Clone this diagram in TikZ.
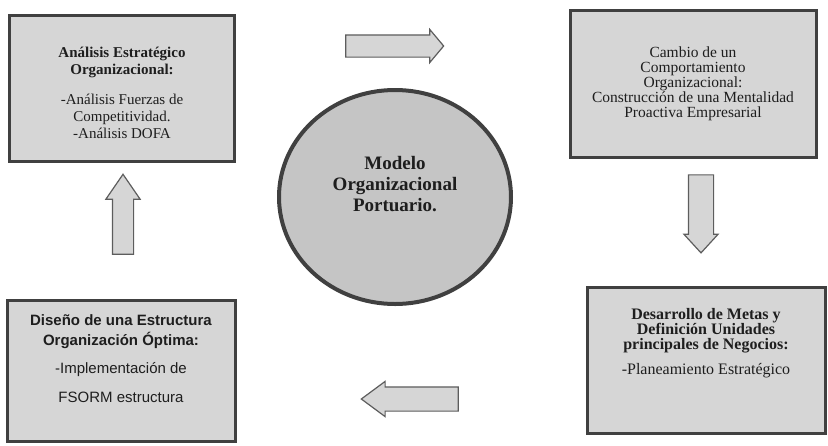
\documentclass[tikz,border=0pt]{standalone}
\usepackage{fontspec}
\setmainfont{Liberation Serif}
\newfontfamily\arialfont{Liberation Sans}
\usetikzlibrary{shapes.arrows,shapes.geometric,positioning}
\definecolor{edge}{HTML}{404040}
\definecolor{shade}{HTML}{D6D6D6}
\definecolor{ink}{HTML}{1E1E1E}
\tikzset{
  box/.style={draw=edge,line width=3pt,fill=shade,inner sep=0pt},
  txt/.style={align=center,text=ink,inner sep=0pt},
  hub/.style={ellipse,draw=edge,line width=4pt,fill=shade!92!black,inner sep=0pt},
  blk/.style={single arrow,draw=edge!85,line width=1.2pt,fill=shade,single arrow head indent=0pt}
}

\begin{document}
\begin{tikzpicture}[x=1pt,y=-1pt]
\useasboundingbox (0,0) rectangle (828,445);
% four boxes and the hub
\node[box,minimum width=225pt,minimum height=146pt] (ana) at (122,88) {};
\node[box,minimum width=246pt,minimum height=147pt] (cam) at (693,83.5) {};
\node[box,minimum width=238pt,minimum height=146pt] (des) at (706,360) {};
\node[box,minimum width=228pt,minimum height=141pt] (dis) at (121,370.5) {};
\node[hub,minimum width=232pt,minimum height=214pt] (mod) at (395,197) {};
% texts
\node[txt,font=\fontsize{15}{17}\selectfont,yshift=-5pt] (anatxt) at (ana)
  {\textbf{Análisis Estratégico}\\\textbf{Organizacional:}\\[13pt]-Análisis Fuerzas de\\Competitividad.\\-Análisis DOFA};
\node[txt,font=\fontsize{15.5}{15}\selectfont] (camtxt) at (cam)
  {Cambio de un\\Comportamiento\\Organizacional:\\Construcción de una Mentalidad\\Proactiva Empresarial};
\node[txt,font=\fontsize{16}{15}\selectfont\bfseries,yshift=17pt] (destxt) at (des)
  {Desarrollo de Metas y\\Definición Unidades\\principales de Negocios:\\[10pt]\mdseries -Planeamiento Estratégico};
\node[txt,font=\arialfont\fontsize{15}{20}\selectfont,yshift=12pt] (distxt) at (dis)
  {\textbf{Diseño de una Estructura}\\\textbf{Organización Óptima:}\\[8pt]-Implementación de\\[9pt]FSORM estructura};
\node[txt,font=\fontsize{19}{21}\selectfont\bfseries,yshift=13pt] (modtxt) at (mod)
  {Modelo\\Organizacional\\Portuario.};
% block arrows
\node[blk,inner sep=10.5pt,minimum height=98pt,single arrow head extend=5.5pt,single arrow tip angle=100] (ar1) at (390,46) {};
\node[blk,inner sep=12pt,minimum height=78pt,single arrow head extend=4.5pt,single arrow tip angle=85,shape border rotate=270] (ar2) at (701,207) {};
\node[blk,inner sep=11.5pt,minimum height=97pt,single arrow head extend=5.5pt,single arrow tip angle=73,shape border rotate=180] (ar3) at (418,399) {};
\node[blk,inner sep=10pt,minimum height=80pt,single arrow head extend=6.5pt,single arrow tip angle=69,shape border rotate=90] (ar4) at (123,222) {};
\end{tikzpicture}
\end{document}
